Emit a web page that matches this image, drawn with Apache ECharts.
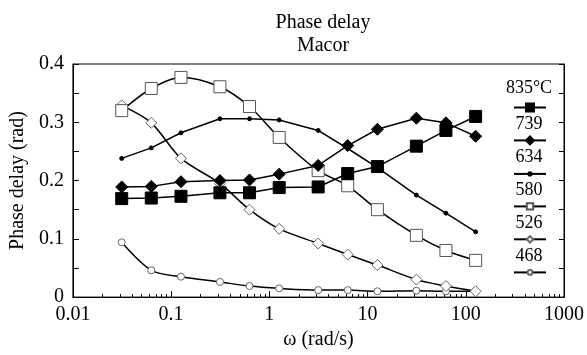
<!DOCTYPE html>
<html>
<head>
<meta charset="utf-8">
<script src="https://cdn.jsdelivr.net/npm/echarts@6/dist/echarts.min.js"></script>
<style>html,body{margin:0;padding:0;background:#fff}#c{width:587px;height:355px}</style>
</head>
<body>
<div id="c"></div>
<script>
// angular frequency (rad/s)
const omega = [0.0314, 0.0628, 0.126, 0.314, 0.628, 1.26, 3.14, 6.28, 12.6, 31.4, 62.8, 126];
const seriesNames = ['835°C', '739', '634', '580', '526', '468'];
const d835 = [0.169, 0.170, 0.173, 0.179, 0.179, 0.188, 0.189, 0.212, 0.224, 0.259, 0.286, 0.310];
const d739 = [0.189, 0.190, 0.198, 0.200, 0.201, 0.211, 0.226, 0.260, 0.288, 0.307, 0.299, 0.276];
const d634 = [0.238, 0.256, 0.282, 0.306, 0.306, 0.304, 0.286, 0.255, 0.222, 0.175, 0.144, 0.112];
const d580 = [0.320, 0.358, 0.377, 0.361, 0.327, 0.274, 0.217, 0.191, 0.150, 0.106, 0.080, 0.063];
const d526 = [0.329, 0.299, 0.238, 0.195, 0.150, 0.117, 0.092, 0.073, 0.055, 0.030, 0.019, 0.010];
const d468 = [0.094, 0.046, 0.035, 0.026, 0.019, 0.015, 0.012, 0.012, 0.010, 0.011, 0.010, 0.010];
const xTicks = [0.01, 0.1, 1, 10, 100, 1000];
const yTicks = [0, 0.1, 0.2, 0.3, 0.4];

const allData = [d835, d739, d634, d580, d526, d468];
const styles = [
  {symbol: 'rect', size: 12, legendSize: 10, fill: '#000', border: '#000', smooth: false},
  {symbol: 'diamond', size: 12, legendSize: 10, fill: '#000', border: '#000', smooth: false},
  {symbol: 'circle', size: 4, legendSize: 4, fill: '#000', border: '#000', smooth: false},
  {symbol: 'rect', size: 12, legendSize: 8, fill: '#fff', border: '#555', smooth: 0.3},
  {symbol: 'diamond', size: 11, legendSize: 8, fill: '#fff', border: '#666', smooth: 0.3},
  {symbol: 'circle', size: 7, legendSize: 6, fill: '#fff', border: '#666', smooth: 0.3}
];

const FONT = 'Liberation Serif';
const chart = echarts.init(document.getElementById('c'));

const series = seriesNames.map((n, i) => ({
  name: n,
  type: 'line',
  data: omega.map((w, j) => [w, allData[i][j]]),
  symbol: styles[i].symbol,
  symbolSize: styles[i].size,
  smooth: styles[i].smooth,
  showAllSymbol: true,
  lineStyle: {color: '#000', width: 1.5},
  itemStyle: {color: styles[i].fill, borderColor: styles[i].border, borderWidth: 1},
  z: 10 - i
}));

const legendIconY0 = 107.5;
const legendStep = 32.9;
const legends = seriesNames.map((n, i) => {
  const h = styles[i].legendSize;
  return {
    orient: 'vertical',
    left: 513,
    top: legendIconY0 + i * legendStep - h / 2,
    padding: 0,
    itemWidth: 32, itemHeight: h,
    formatter: () => '',
    data: [n],
    textStyle: {fontSize: 1}
  };
});
const graphics = seriesNames.map((n, i) => ({
  type: 'text',
  x: 529,
  y: legendIconY0 + i * legendStep - (i === 0 ? 19 : 16),
  style: {text: n, font: '18px "' + FONT + '"', fill: '#000', align: 'center', verticalAlign: 'middle'}
}));

chart.setOption({
  animation: false,
  backgroundColor: '#fff',
  title: {
    text: 'Phase delay\nMacor',
    left: 318, top: 6, textAlign: 'center',
    textStyle: {fontFamily: FONT, fontWeight: 'normal', fontSize: 20, color: '#000', lineHeight: 23}
  },
  grid: {left: 72, right: 22, top: 64, bottom: 56, show: true, borderColor: '#000', borderWidth: 1},
  legend: legends,
  graphic: graphics,
  xAxis: {
    type: 'log', logBase: 10, min: 0.01, max: 1000,
    name: 'ω (rad/s)', nameLocation: 'middle', nameGap: 31,
    nameTextStyle: {fontFamily: FONT, fontSize: 20, color: '#000'},
    axisLine: {lineStyle: {color: '#000'}},
    axisTick: {inside: true, length: 6, lineStyle: {color: '#000'}},
    minorTick: {show: true, splitNumber: 9, length: 3, lineStyle: {color: '#000'}},
    splitLine: {show: false},
    axisLabel: {fontFamily: FONT, fontSize: 20, color: '#000', margin: 8,
      formatter: v => { const t = xTicks.find(x => Math.abs(Math.log10(x) - Math.log10(v)) < 1e-6); return t !== undefined ? String(t) : ''; }}
  },
  yAxis: [{
    type: 'value', min: 0, max: 0.4, interval: 0.1,
    name: 'Phase delay (rad)', nameLocation: 'middle', nameGap: 44,
    nameTextStyle: {fontFamily: FONT, fontSize: 20, color: '#000'},
    axisLine: {show: true, lineStyle: {color: '#000'}},
    axisTick: {show: true, inside: true, length: 6, lineStyle: {color: '#000'}},
    minorTick: {show: true, splitNumber: 2, length: 6, lineStyle: {color: '#000'}},
    splitLine: {show: false},
    axisLabel: {fontFamily: FONT, fontSize: 20, color: '#000', margin: 9,
      formatter: v => { const t = yTicks.find(y => Math.abs(y - v) < 1e-9); return t !== undefined ? String(t) : ''; }}
  }, {
    type: 'value', min: 0, max: 0.4, interval: 0.1, position: 'right',
    axisLine: {show: true, lineStyle: {color: '#000'}},
    axisTick: {show: true, inside: true, length: 5, lineStyle: {color: '#000'}},
    minorTick: {show: true, splitNumber: 2, length: 5, lineStyle: {color: '#000'}},
    splitLine: {show: false},
    axisLabel: {show: false}
  }],
  series: series
});
</script>
</body>
</html>
